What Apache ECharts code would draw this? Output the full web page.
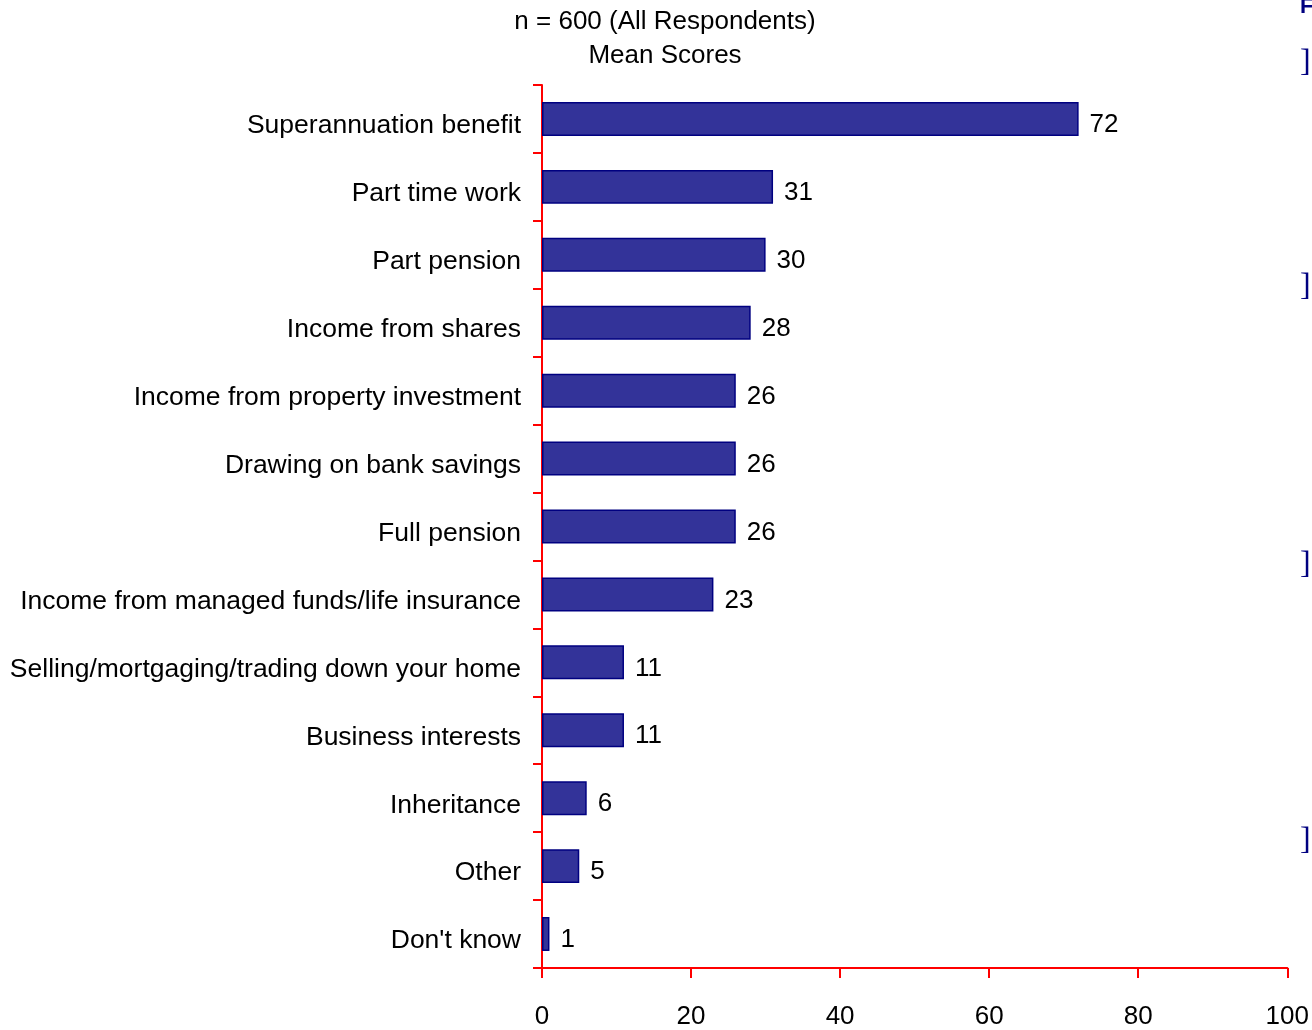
<!DOCTYPE html>
<html><head><meta charset="utf-8">
<script src="https://cdn.jsdelivr.net/npm/echarts@6/dist/echarts.min.js"></script>
<style>html,body{margin:0;padding:0;background:#fff}#c{width:1312px;height:1030px}</style>
</head><body><div id="c"></div>
<script>
const categories = ["Superannuation benefit","Part time work","Part pension","Income from shares","Income from property investment","Drawing on bank savings","Full pension","Income from managed funds/life insurance","Selling/mortgaging/trading down your home","Business interests","Inheritance","Other","Don't know"];
const values = [72,31,30,28,26,26,26,23,11,11,6,5,1];
const xTicks = [0,20,40,60,80,100];
const titleLines = ["n = 600 (All Respondents)","Mean Scores"];

const FONT = '"Liberation Sans", Arial, sans-serif';
const chart = echarts.init(document.getElementById('c'), null, {renderer:'canvas'});
chart.setOption({
  animation:false,
  backgroundColor:'#fff',
  title:{text:titleLines.join('\n'), left:660, top:0, textAlign:'center',
    textStyle:{fontFamily:FONT,fontSize:26,fontWeight:'normal',color:'#000',lineHeight:34}},
  grid:{left:542, top:85, width:746, height:885, containLabel:false},
  xAxis:{type:'value', min:xTicks[0], max:xTicks[xTicks.length-1], interval:20,
    axisLine:{show:true,lineStyle:{color:'#ff0000',width:2}},
    axisTick:{show:true,length:10,lineStyle:{color:'#ff0000',width:2}},
    axisLabel:{fontFamily:FONT,fontSize:26,color:'#000',margin:36},
    splitLine:{show:false}},
  yAxis:{type:'category', data:categories, inverse:true,
    axisLine:{show:true,lineStyle:{color:'#ff0000',width:2}},
    axisTick:{show:true,length:9,lineStyle:{color:'#ff0000',width:2},alignWithLabel:false},
    axisLabel:{margin:21, formatter: v => '{a|' + v + '}',
      rich:{a:{fontFamily:FONT,fontSize:26.5,color:'#000',padding:[14,0,0,0]}}}},
  series:[{type:'bar', data:values, barCategoryGap:'50%',
    itemStyle:{color:'#333399',borderColor:'#000080',borderWidth:1.5},
    label:{show:true,position:'right',distance:11,offset:[0,6],fontFamily:FONT,fontSize:26,color:'#000'}}],
  graphic:[
    {type:'text',left:1300,top:-4,style:{text:'F',font:'bold 22px "Liberation Sans", Arial',fill:'#000080'}},
    {type:'text',left:1300,top:47,style:{text:']',font:'32px "Liberation Serif", serif',fill:'#000080'}},
    {type:'text',left:1300,top:271,style:{text:']',font:'32px "Liberation Serif", serif',fill:'#000080'}},
    {type:'text',left:1300,top:549,style:{text:']',font:'32px "Liberation Serif", serif',fill:'#000080'}},
    {type:'text',left:1300,top:825,style:{text:']',font:'32px "Liberation Serif", serif',fill:'#000080'}}
  ]
});
</script></body></html>
